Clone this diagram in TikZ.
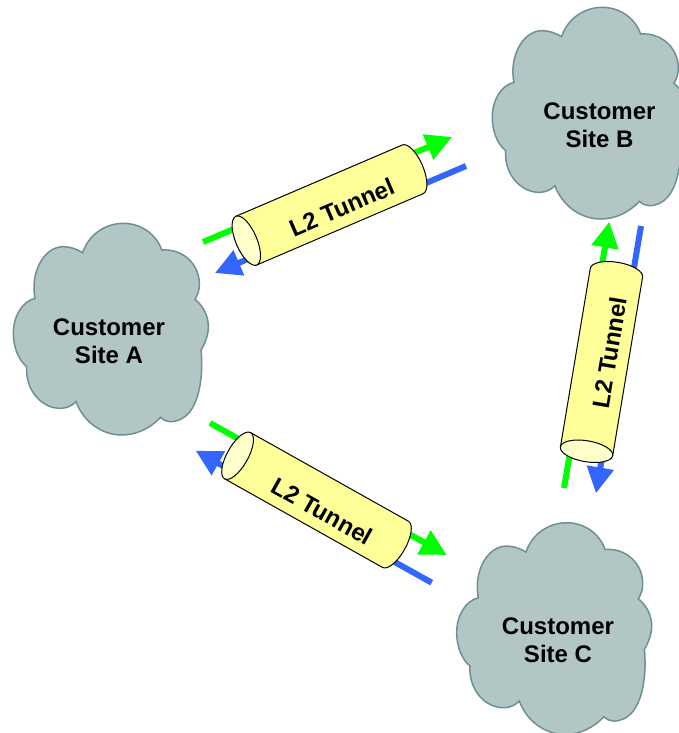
\documentclass[tikz,border=0pt]{standalone}
\usepackage{fontspec}
\setmainfont{Liberation Sans}
\usetikzlibrary{arrows.meta}
\definecolor{cloudfill}{HTML}{B2C6C6}
\definecolor{clouddraw}{HTML}{6F9090}
\definecolor{tunnelbody}{HTML}{FFFF99}
\definecolor{tunnelend}{HTML}{FFFFCC}
\definecolor{flowgreen}{HTML}{00FF00}
\definecolor{flowblue}{HTML}{3366FF}
\tikzset{
  pics/sitecloud/.style={code={
    \draw[fill=cloudfill, draw=clouddraw, line width=1.5pt, scale=1/3, shift={(-332,-357)}]
      (248,128) .. controls (265,75) and (315,40) .. (370,40)
      .. controls (425,40) and (470,75) .. (485,120)
      .. controls (550,115) and (600,165) .. (598,225)
      .. controls (598,240) and (593,255) .. (585,268)
      .. controls (612,290) and (625,320) .. (625,350)
      .. controls (625,375) and (615,400) .. (603,420)
      .. controls (610,480) and (605,635) .. (510,635)
      .. controls (500,635) and (490,630) .. (482,622)
      .. controls (450,655) and (410,675) .. (365,675)
      .. controls (305,675) and (250,635) .. (228,575)
      .. controls (215,588) and (200,595) .. (180,595)
      .. controls (125,595) and (75,540) .. (80,470)
      .. controls (55,450) and (40,410) .. (40,370)
      .. controls (40,320) and (65,275) .. (105,265)
      .. controls (90,190) and (130,110) .. (190,110)
      .. controls (210,110) and (230,117) .. (248,128) -- cycle;
  }},
  pics/tunnelpipe/.style={code={
    \draw[fill=tunnelbody, line width=1pt, line join=round] (-90.5,-26.5) -- (90.5,-26.5)
      arc[start angle=90, end angle=-90, x radius=10.5pt, y radius=26.5pt] -- (-90.5,26.5) -- cycle;
    \draw[fill=tunnelend, line width=1pt] (-90.5,0) ellipse[x radius=10.5pt, y radius=26.5pt];
  }},
  site/.style={align=center, font=\fontsize{24}{28.5}\selectfont\bfseries, inner sep=0pt},
  tunnellabel/.style={inner sep=0pt, font=\fontsize{24}{28}\selectfont\bfseries},
  greenflow/.style={-{Triangle[length=26pt, width=26pt]}, line width=6pt, flowgreen},
  blueflow/.style={-{Triangle[length=26pt, width=26pt]}, line width=6pt, flowblue}
}
\begin{document}
\begin{tikzpicture}[x=1pt, y=-1pt]
  \useasboundingbox (0,0) rectangle (678,733);

  \pic at (110.7,329) {sitecloud};
  \pic at (589.6,113) {sitecloud};
  \pic at (554,628.4) {sitecloud};

  \node[site] (sitea) at (109,341) {Customer\\Site A};
  \node[site] (siteb) at (599.5,125) {Customer\\Site B};
  \node[site] (sitec) at (558,640) {Customer\\Site C};

  \coordinate (ab green start) at (203,242);
  \coordinate (ab green end) at (452,137);
  \coordinate (ab blue start) at (466,166);
  \coordinate (ab blue end) at (215,273);

  \coordinate (cb green start) at (564,488);
  \coordinate (cb green end) at (609.3,221.7);
  \coordinate (cb blue start) at (641,226);
  \coordinate (cb blue end) at (596,493.3);

  \coordinate (ac green start) at (210,423);
  \coordinate (ac green end) at (446.7,555);
  \coordinate (ac blue start) at (431.7,582.7);
  \coordinate (ac blue end) at (195.7,450.7);

  \draw[greenflow] (ab green start) -- (ab green end);
  \draw[blueflow] (ab blue start) -- (ab blue end);
  \draw[greenflow] (cb green start) -- (cb green end);
  \draw[blueflow] (cb blue start) -- (cb blue end);
  \draw[greenflow] (ac green start) -- (ac green end);
  \draw[blueflow] (ac blue start) -- (ac blue end);

  \pic[rotate=23.2] at (329.5,205) {tunnelpipe};
  \pic[rotate=80.5] at (601.5,362) {tunnelpipe};
  \pic[rotate=-29.3] at (316.5,500) {tunnelpipe};

  \node[tunnellabel, rotate=23.2] (labelab) at (341.7,207.3) {L2 Tunnel};
  \node[tunnellabel, rotate=80.5] (labelcb) at (609.3,352.7) {L2 Tunnel};
  \node[tunnellabel, rotate=-29.3] (labelac) at (322.3,511.3) {L2 Tunnel};
\end{tikzpicture}
\end{document}
